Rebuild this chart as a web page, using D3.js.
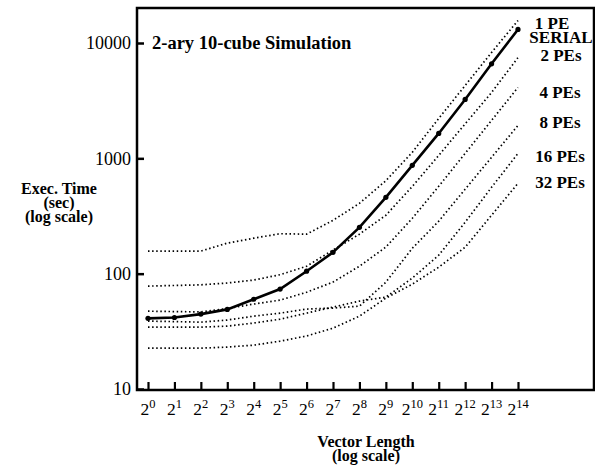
<!DOCTYPE html>
<html>
<head>
<meta charset="utf-8">
<script src="https://cdn.jsdelivr.net/npm/d3@7"></script>
<style>
  html, body { margin: 0; padding: 0; background: #fff; }
  svg { display: block; }
  text { font-family: "Liberation Serif", "DejaVu Serif", serif; fill: #000; }
</style>
</head>
<body>
<svg id="chart" width="595" height="466"></svg>
<script>
// ---- data ----
const exponents = [0, 1, 2, 3, 4, 5, 6, 7, 8, 9, 10, 11, 12, 13, 14];
const vectorLengths = [1, 2, 4, 8, 16, 32, 64, 128, 256, 512, 1024, 2048, 4096, 8192, 16384];
const serial = [41, 41.7, 44.6, 49, 60, 73.5, 105, 153, 252, 459, 870, 1644, 3240, 6600, 13100];
const pe1  = [157, 157, 157, 184, 203, 222, 220, 290, 407, 640, 1127, 2218, 4280, 8280, 15670];
const pe2  = [78, 79, 80, 83, 88, 98, 116, 160, 220, 321, 570, 1060, 1990, 3720, 7480];
const pe4  = [47.3, 46.9, 46.6, 49.8, 54.5, 59, 69, 84.5, 116, 170, 302, 572, 1104, 2133, 4120];
const pe8  = [38.8, 38.4, 38.0, 39.6, 42.8, 45.5, 49.3, 50.3, 52.3, 84.4, 166, 285, 540, 1020, 1930];
const pe16 = [34.4, 34.4, 34.4, 35.1, 37.3, 40.3, 45.5, 51.3, 57.8, 62.6, 91.5, 144.5, 279, 561, 1104];
const pe32 = [22.6, 22.6, 22.6, 23.1, 24.0, 26.0, 28.8, 33.7, 42.8, 61.4, 81.1, 113.8, 169.5, 321, 608];
const yTicks = [10, 100, 1000, 10000];
const seriesLabels = ["1 PE", "SERIAL", "2 PEs", "4 PEs", "8 PEs", "16 PEs", "32 PEs"];
const labelBaselines = [29, 43, 61, 98, 128, 162, 188];
const labelCenters = [552, 561, 561, 560, 560, 560, 560];

const svg = d3.select("#chart");
const frame = { left: 137, top: 8, right: 594, bottom: 390 };

const x = d3.scaleLog().base(2).domain([1, 16384]).range([148, 518]);
const y = d3.scaleLog().domain([10, 10000]).range([389, 43]);

// frame
svg.append("path")
  .attr("d", `M${frame.left},${frame.top}H${frame.right}V${frame.bottom}H${frame.left}Z`)
  .attr("fill", "none").attr("stroke", "#000").attr("stroke-width", 2.5);

// y axis ticks (inward)
const yAxis = d3.axisLeft(y).tickValues(yTicks).tickSize(-7).tickPadding(5)
  .tickFormat(d3.format("d"));
const gy = svg.append("g").attr("transform", `translate(${frame.left},0)`).call(yAxis);
gy.select(".domain").remove();
gy.selectAll(".tick line").attr("stroke", "#000").attr("stroke-width", 2.5);
gy.selectAll(".tick text").attr("font-size", 18).attr("font-family", "Liberation Serif")
  .attr("dx", -1);

// x axis ticks (inward)
const xAxis = d3.axisBottom(x).tickValues(vectorLengths).tickSize(-7).tickFormat("");
const gx = svg.append("g").attr("transform", `translate(0,${frame.bottom - 1})`).call(xAxis);
gx.select(".domain").remove();
gx.selectAll(".tick line").attr("stroke", "#000").attr("stroke-width", 2.2);

// x tick labels 2^n
const xl = svg.append("g");
exponents.forEach((e, i) => {
  const t = xl.append("text")
    .attr("x", x(vectorLengths[i]))
    .attr("y", 415)
    .attr("text-anchor", "middle")
    .attr("font-size", 17.5);
  t.append("tspan").text("2");
  t.append("tspan").attr("font-size", 12.5).attr("dy", -7).text(String(e));
});

// lines
const line = d3.line().x((d, i) => x(vectorLengths[i])).y(d => y(d));

const dotted = [pe1, pe2, pe4, pe8, pe16, pe32];
dotted.forEach(s => {
  svg.append("path").datum(s).attr("d", line)
    .attr("fill", "none").attr("stroke", "#000")
    .attr("stroke-width", 1.7).attr("stroke-dasharray", "1.5 2.6");
});

svg.append("path").datum(serial).attr("d", line)
  .attr("fill", "none").attr("stroke", "#000").attr("stroke-width", 2.6);
svg.append("g").selectAll("circle").data(serial).join("circle")
  .attr("cx", (d, i) => x(vectorLengths[i])).attr("cy", d => y(d)).attr("r", 2.6)
  .attr("fill", "#000");

// title
svg.append("text").attr("x", 152).attr("y", 49)
  .attr("font-size", 18.5).attr("font-weight", "bold")
  .text("2-ary 10-cube Simulation");

// right series labels
seriesLabels.forEach((s, i) => {
  svg.append("text").attr("x", labelCenters[i]).attr("y", labelBaselines[i])
    .attr("text-anchor", "middle").attr("font-size", 17).attr("font-weight", "bold")
    .text(s);
});

// y axis title
const yt = svg.append("text").attr("text-anchor", "middle").attr("font-weight", "bold")
  .attr("font-size", 16);
yt.append("tspan").attr("x", 59).attr("y", 194).text("Exec. Time");
yt.append("tspan").attr("x", 59).attr("y", 208).text("(sec)");
yt.append("tspan").attr("x", 59).attr("y", 222).text("(log scale)");

// x axis title
const xt = svg.append("text").attr("text-anchor", "middle").attr("font-weight", "bold")
  .attr("font-size", 16);
xt.append("tspan").attr("x", 366).attr("y", 447).text("Vector Length");
xt.append("tspan").attr("x", 366).attr("y", 461).text("(log scale)");
</script>
</body>
</html>
